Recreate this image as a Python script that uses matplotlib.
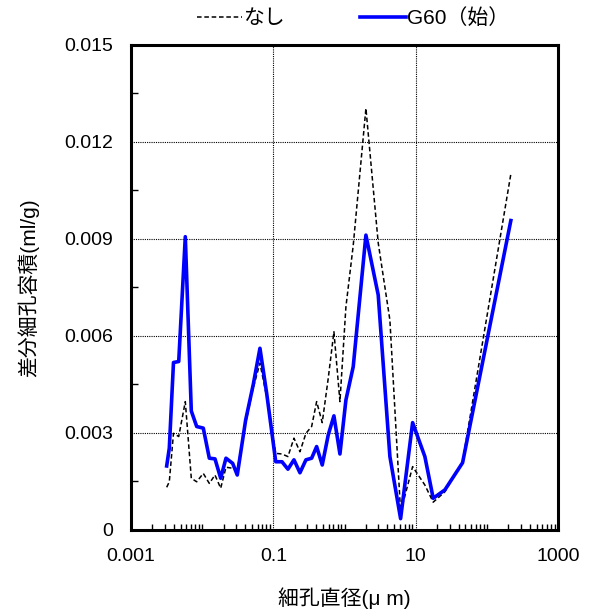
#!/usr/bin/env python3
"""Differential pore volume vs. pore diameter (log scale), two samples."""

import matplotlib

matplotlib.use("Agg")
import matplotlib.pyplot as plt
from matplotlib.ticker import FixedLocator, LogLocator, NullFormatter, MultipleLocator

plt.rcParams["font.family"] = ["Liberation Sans", "Noto Sans CJK JP", "DejaVu Sans"]

# pore diameter (um), shared by both samples
diameter = [
    0.00317, 0.00345, 0.00395, 0.00468, 0.00579, 0.00703, 0.00837, 0.01036,
    0.01259, 0.01513, 0.01819, 0.02159, 0.02682, 0.0311, 0.0408, 0.0522,
    0.0648, 0.0805, 0.108, 0.1321, 0.1603, 0.1947, 0.2364, 0.2870,
    0.3451, 0.4056, 0.4862, 0.5904, 0.7097, 0.8619, 1.046, 1.325,
    1.998, 2.974, 4.341, 6.137, 9.05, 13.46, 17.62, 25.71,
    45.58, 217.3,
]

# differential pore volume (ml/g)
none_vals = [
    0.00132, 0.00149, 0.00299, 0.00289, 0.00397, 0.00160, 0.00149, 0.00175,
    0.00144, 0.00170, 0.00129, 0.00194, 0.00191, 0.00186, 0.00330, 0.00440,
    0.00516, 0.00412, 0.00237, 0.00235, 0.00227, 0.00284, 0.00242, 0.00299,
    0.00320, 0.00397, 0.00332, 0.00469, 0.00613, 0.00397, 0.00690, 0.00880,
    0.01304, 0.00888, 0.00649, 0.00055, 0.00196, 0.00139, 0.00086, 0.00118,
    0.00212, 0.01101,
]
g60_vals = [
    0.00198, 0.00253, 0.00518, 0.00521, 0.00907, 0.00368, 0.00320, 0.00315,
    0.00222, 0.00220, 0.00160, 0.00222, 0.00206, 0.00170, 0.00340, 0.00450,
    0.00562, 0.00423, 0.00211, 0.00211, 0.00188, 0.00217, 0.00177, 0.00217,
    0.00222, 0.00258, 0.00201, 0.00294, 0.00353, 0.00235, 0.00402, 0.00505,
    0.00912, 0.00727, 0.00227, 0.00035, 0.00332, 0.00227, 0.00098, 0.00124,
    0.00208, 0.00957,
]

labels = ["なし", "G60（始）"]
x_ticks = [0.001, 0.1, 10, 1000]
x_ticklabels = ["0.001", "0.1", "10", "1000"]
y_ticks = [0, 0.003, 0.006, 0.009, 0.012, 0.015]
y_ticklabels = ["0", "0.003", "0.006", "0.009", "0.012", "0.015"]

fig = plt.figure(figsize=(5.91, 6.11), dpi=100)
ax = fig.add_axes([0.2217, 0.1326, 0.7225, 0.7938])

ax.plot(diameter, none_vals, color="black", lw=1.1, ls=(0, (3, 1.8)),
        label=labels[0], zorder=3)
ax.plot(diameter, g60_vals, color="#0000ff", lw=2.6, label=labels[1], zorder=4)

ax.set_xscale("log")
ax.set_xlim(0.001, 1000)
ax.set_ylim(0, 0.015)

ax.xaxis.set_major_locator(FixedLocator(x_ticks))
ax.set_xticklabels(x_ticklabels)
ax.xaxis.set_minor_locator(LogLocator(base=10, subs="all", numticks=20))
ax.xaxis.set_minor_formatter(NullFormatter())
ax.set_yticks(y_ticks)
ax.set_yticklabels(y_ticklabels)
ax.yaxis.set_minor_locator(MultipleLocator(0.0015))

ax.tick_params(which="both", direction="in", labelsize=14, width=1.0)
ax.tick_params(axis="x", which="major", length=0, pad=13)
ax.tick_params(axis="x", which="minor", length=4)
ax.tick_params(axis="y", which="major", length=0, pad=13)
ax.tick_params(axis="y", which="minor", length=5)

ax.grid(True, which="major", color="black", lw=0.8, ls=(0, (1, 1)))
for spine in ax.spines.values():
    spine.set_linewidth(2.2)

ax.set_xlabel("細孔直径(μ m)", fontsize=15, labelpad=16)
ax.set_ylabel("差分細孔容積(ml/g)", fontsize=15, labelpad=18)

fig.legend(loc="upper center", bbox_to_anchor=(0.597, 1.017), ncol=2,
           frameon=False, fontsize=15, handlelength=2.2, handletextpad=0.05,
           columnspacing=3.6)

fig.savefig("out.png", dpi=100)
